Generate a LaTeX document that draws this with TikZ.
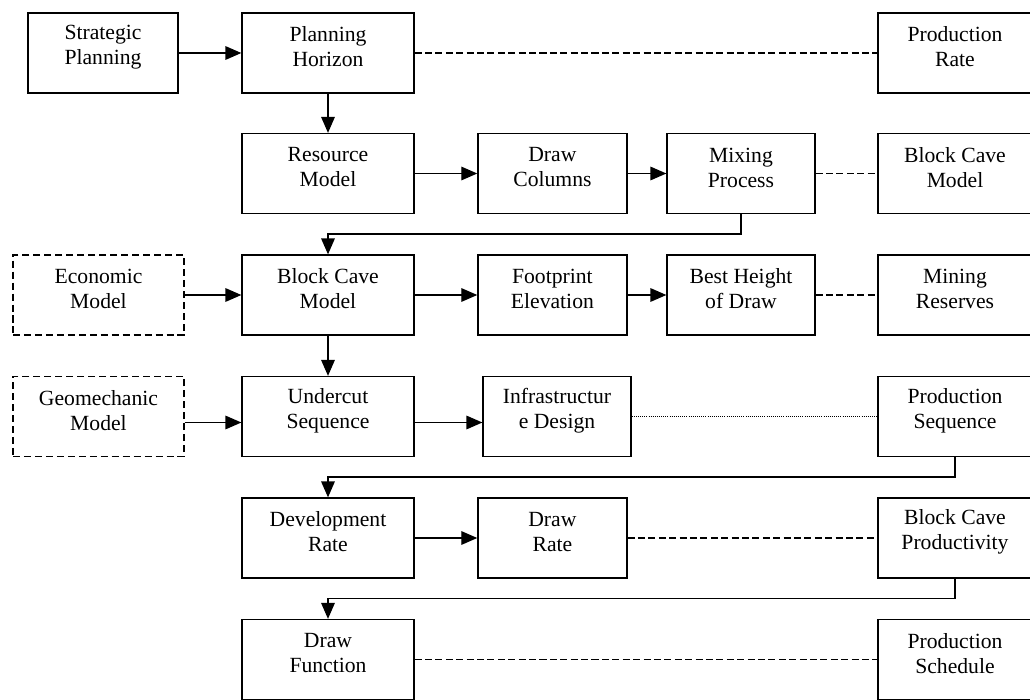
\documentclass[tikz,border=0pt]{standalone}
\usepackage{fontspec}
\setmainfont{Liberation Serif}
\usetikzlibrary{arrows.meta}
\tikzset{
  blk/.style={draw,line width=0.9pt,minimum width=4.3cm,minimum height=2cm,inner sep=0pt},
  blkd/.style={blk,dash pattern=on 5pt off 2.8pt},
  txt/.style={align=center,yshift=0.15cm,font=\fontsize{15.4}{17.8}\selectfont},
  pfeil/.style={-{Triangle[length=4mm,width=3.4mm]},line width=1pt},
  stri/.style={dash pattern=on 5pt off 2.4pt,line width=0.9pt},
  punkt/.style={densely dotted,line width=0.5pt},
}
\begin{document}
\begin{tikzpicture}
  \useasboundingbox (0,0) rectangle (25.75,-17.5);
  % row 1
  \node[blk,minimum width=3.75cm,label={[txt]center:Strategic\\Planning}] (sp) at (2.575,-1.325) {};
  \node[blk,label={[txt]center:Planning\\Horizon}] (ph) at (8.2,-1.325) {};
  \node[blk,minimum width=3.85cm,label={[txt]center:Production\\Rate}] (prate) at (23.875,-1.325) {};
  % row 2
  \node[blk,label={[txt]center:Resource\\Model}] (rm) at (8.2,-4.3375) {};
  \node[blk,minimum width=3.725cm,label={[txt]center:Draw\\Columns}] (dcol) at (13.81,-4.3375) {};
  \node[blk,minimum width=3.7cm,label={[txt]center:Mixing\\Process}] (mix) at (18.525,-4.3375) {};
  \node[blk,minimum width=3.85cm,label={[txt]center:Block Cave\\Model}] (bcm2) at (23.875,-4.3375) {};
  % row 3
  \node[blkd,minimum width=4.275cm,label={[txt]center:Economic\\Model}] (em) at (2.4625,-7.375) {};
  \node[blk,label={[txt]center:Block Cave\\Model}] (bcm) at (8.2,-7.375) {};
  \node[blk,minimum width=3.725cm,label={[txt]center:Footprint\\Elevation}] (fe) at (13.81,-7.375) {};
  \node[blk,minimum width=3.7cm,label={[txt]center:Best Height\\of Draw}] (bhd) at (18.525,-7.375) {};
  \node[blk,minimum width=3.85cm,label={[txt]center:Mining\\Reserves}] (mres) at (23.875,-7.375) {};
  % row 4
  \node[blkd,minimum width=4.275cm,label={[txt]center:Geomechanic\\Model}] (gm) at (2.4625,-10.4125) {};
  \node[blk,label={[txt]center:Undercut\\Sequence}] (uc) at (8.2,-10.4125) {};
  \node[blk,minimum width=3.7cm,label={[txt]center:Infrastructur\\e Design}] (infra) at (13.925,-10.4125) {};
  \node[blk,minimum width=3.85cm,label={[txt]center:Production\\Sequence}] (pseq) at (23.875,-10.4125) {};
  % row 5
  \node[blk,label={[txt]center:Development\\Rate}] (dev) at (8.2,-13.45) {};
  \node[blk,minimum width=3.725cm,label={[txt]center:Draw\\Rate}] (drate) at (13.81,-13.45) {};
  \node[blk,minimum width=3.85cm,label={[txt]center:Block Cave\\Productivity}] (bcp) at (23.875,-13.45) {};
  % row 6
  \node[blk,label={[txt]center:Draw\\Function}] (dfun) at (8.2,-16.4875) {};
  \node[blk,minimum width=3.85cm,label={[txt]center:Production\\Schedule}] (psched) at (23.875,-16.4875) {};
  % connectors
  \draw[pfeil] (sp) -- (ph);
  \draw[stri] (ph) -- (prate);
  \draw[pfeil] (ph) -- (rm);
  \draw[pfeil] (rm) -- (dcol);
  \draw[pfeil] (dcol) -- (mix);
  \draw[stri] (mix) -- (bcm2);
  \draw[pfeil] (mix.south) -- ++(0,-0.5) -| (bcm.north);
  \draw[pfeil] (em) -- (bcm);
  \draw[pfeil] (bcm) -- (fe);
  \draw[pfeil] (fe) -- (bhd);
  \draw[stri] (bhd) -- (mres);
  \draw[pfeil] (bcm) -- (uc);
  \draw[pfeil] ([yshift=-0.15cm]gm.east) -- ([yshift=-0.15cm]uc.west);
  \draw[pfeil] ([yshift=-0.15cm]uc.east) -- ([yshift=-0.15cm]infra.west);
  \draw[punkt] (infra) -- (pseq);
  \draw[pfeil] (pseq.south) -- ++(0,-0.5) -| (dev.north);
  \draw[pfeil] (dev) -- (drate);
  \draw[stri] (drate) -- (bcp);
  \draw[pfeil] (bcp.south) -- ++(0,-0.5) -| (dfun.north);
  \draw[stri] (dfun) -- (psched);
\end{tikzpicture}
\end{document}
